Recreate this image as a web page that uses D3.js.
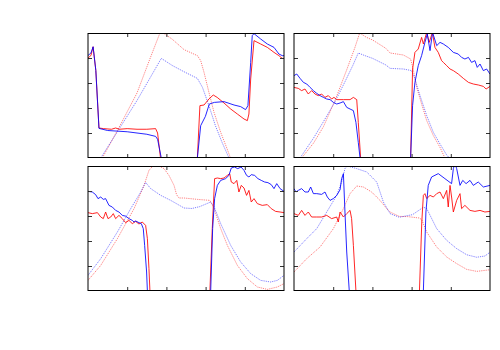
<!DOCTYPE html>
<html lang="en">
<head>
  <meta charset="UTF-8">
  <title>four panels</title>
  <script src="https://cdnjs.cloudflare.com/ajax/libs/d3/7.8.5/d3.min.js"></script>
  <style>
    body { margin: 0; background: #fff; }
    svg { display: block; }
  </style>
</head>
<body>
  <div id="chart"></div>

  <script>
    // all values on a 0..100 scale in x and y
    // -10 means the line has left the bottom of the frame
    const xTicks = [20, 40, 60, 80];
    const yTicks = [20, 40, 60, 80];

    // top left
    const tlRed = [[0,80],[1.5,82],[2.6,89],[4,70],[5.6,24],[8,23.5],[12,23],[14.1,24],[16,23],[20,23.5],[25,23],[30,23],[34.5,23.5],[35.5,20],[37,0],[37.5,-10],
      [55.5,-10],[55.8,0],[57.1,41.9],[59.2,42.4],[61.7,47.2],[63.9,50.4],[65.9,48.5],[69.4,44],[72.8,39.2],[76.2,35.2],[79.6,31.2],[81.3,29.9],[82.1,35.2],[83,63.2],[84.7,93.9],[88.1,91.2],[91.5,88.5],[94.9,84.5],[97.4,81.9],[99.1,79.7],[100,79.7]];
    const tlBlue = [[0,82],[1.5,84],[2.6,89],[4,70],[5.6,23.7],[10,22],[15,21.5],[20,21],[25,20],[30,19],[34.5,17.3],[35.5,15],[37.4,0],[37.8,-10],
      [55.5,-10],[55.8,0],[57.5,25.9],[59.9,33.3],[61.9,43.2],[64.5,44.5],[69.4,45.1],[74.5,42.4],[77.9,41.1],[80.4,38.7],[81.6,41.9],[83,76.5],[83.8,97.9],[84.7,99.5],[88.1,95.2],[91.5,91.2],[94.9,88.5],[97.4,83.2],[99.1,81.9],[100,81.9]];
    const tlRedDot = [[7.3,0],[15,22],[25,52],[32,81],[36.7,100],[37.5,102],[38.4,100],[43,95],[49,86.7],[55.8,81.9],[57.5,77.9],[59.2,68.5],[61.7,52.5],[64.3,36.5],[67.7,20.5],[71,7.2],[72.7,0]];
    const tlBlueDot = [[6.5,0],[15,21],[25,46],[32,65],[37.4,79.7],[43,74],[49,69],[55.8,63.7],[58.4,56.5],[61.7,41.9],[65,25.9],[68.4,12.5],[71.8,0.5],[72.5,-2]];

    // top right
    const trRed = [[0,56.5],[2.2,55.7],[3.9,53.9],[5.6,55.2],[7.3,51.2],[9,53.9],[10.7,51.2],[12.4,49.9],[14.1,51.2],[15.8,48.5],[17.5,49.9],[19.2,47.2],[20.4,48.5],[21.8,46.7],[25.2,46.7],[28.6,46.7],[30.3,48.5],[32,46.7],[32.8,28.5],[34,0],[34.5,-10],
      [59,-10],[59.5,0],[60.5,71.2],[61.7,84.5],[63.4,87.2],[65.1,96.5],[66,91.2],[67.7,100.5],[69,92.5],[70.6,100.5],[71.9,88.5],[73.6,84.5],[75.3,77.9],[76.2,76.5],[77.9,73.9],[79.6,71.2],[81.3,69.9],[83.8,67.2],[86.4,63.7],[89,60.5],[91.5,59.2],[94.1,58.4],[96.6,57.3],[98,55.2],[100,57.3]];
    const trBlue = [[0,65.9],[1.4,67.2],[3.1,63.7],[4.8,60.5],[6.5,59.2],[8.2,56.5],[9.9,53.9],[11.6,51.7],[13.3,49.9],[15,48.5],[16.7,47.2],[18.4,46.7],[20.1,44.5],[21.8,43.2],[23.5,44],[25.2,45.1],[26.9,40.5],[28.6,39.2],[30.3,37.9],[31.6,28.5],[32.8,12.5],[33.7,0],[34.2,-10],
      [59,-10],[59.5,0],[60.5,41.9],[61.7,60.5],[63.4,73.9],[65.1,81.9],[66.8,92.5],[68,99.2],[69.4,85.9],[70.7,100.5],[72.8,89.9],[74.5,92.5],[76.2,91.2],[78.7,88.5],[81.3,84.5],[83.8,83.2],[85.5,80.5],[87.2,79.2],[89,80.5],[90.6,76.5],[92.3,77.9],[93.5,72.5],[94.9,75.2],[96.6,69.9],[98.3,71.2],[100,67.2]];
    const trRedDot = [[3.9,0],[10,12],[15,25],[20.9,45.9],[27,71],[31,88],[33.5,100],[37,96.5],[40.1,94.4],[46.9,87.7],[49,84],[55.8,82.4],[59.5,79.2],[60.8,71.2],[62.6,56.5],[65.1,43.2],[67.7,29.9],[71.1,17.9],[74.5,8.5],[77,0],[78,-3]];
    const trBlueDot = [[3.1,0],[10,16],[15,29],[20.9,45],[26,61],[30,74],[32.8,84],[36,82],[40.1,79.7],[46.9,74.4],[49,71.7],[55.8,71.2],[60,69.9],[61.7,63.2],[64.3,49.9],[67.7,33.9],[71.1,20.5],[74.5,11.2],[77.9,2.4],[79.3,0],[80,-3]];

    // bottom left
    const blRed = [[0,62.7],[2.2,61.9],[4.8,62.7],[6.5,59.2],[7.8,57.9],[9,63.2],[10.2,57.9],[11.6,59.2],[12.9,61.9],[14.1,57.9],[15.8,60.5],[17.5,57.9],[19.2,54.7],[20.9,56.5],[22.6,53.9],[24.3,55.7],[26,53.6],[27.7,55.2],[29.4,52.5],[30.3,41.9],[31.1,17.9],[31.6,0],[32,-10],
      [62,-10],[62.2,0],[63.4,49.9],[64.6,89.9],[66,90.4],[67.7,89.9],[69.4,90.4],[71.1,92.5],[72.3,93.9],[73.1,87.2],[74.5,85.9],[75.9,88.5],[77,79.2],[78.2,84.5],[79.6,82.4],[80.9,76.5],[82.1,80.5],[83.3,71.2],[84.7,73.9],[86.4,69.9],[88.9,68.5],[91.5,69.1],[93.5,65.9],[95.7,63.7],[98,63.2],[100,62.7]];
    const blBlue = [[0,79.7],[2.2,79.2],[3.9,77.1],[5.1,73.9],[6.5,75.2],[7.8,73.3],[9,73.9],[10.7,68.5],[12.4,67.2],[14.1,64.5],[15.8,63.2],[17.5,60.5],[19.2,59.9],[20.9,57.9],[22.6,56.5],[23.5,55.2],[24.3,56],[26,54.7],[27.2,53.9],[28.2,49.9],[28.9,36.5],[29.9,15.2],[30.3,0],[30.7,-10],
      [62.4,-10],[62.6,0],[63.6,49.9],[64.6,73.9],[66,84.5],[67.7,88.5],[70.2,89.9],[71.9,92.5],[73.1,98.4],[74.7,99.2],[76.4,97.9],[78.1,99.2],[79.6,96.5],[80.9,92.5],[82.1,91.2],[83.3,93.1],[85,92.5],[86.7,89.9],[88.4,88.5],[90.1,87.2],[91.8,86.7],[93.5,85.1],[94.9,81.9],[96.3,85.9],[98,81.9],[100,79.7]];
    const blRedDot = [[0,8.5],[6.5,20.5],[15,41.9],[23.5,65.9],[28.6,84.5],[31.1,96.5],[32.8,99.5],[34.5,100.5],[36.2,100],[38.8,97.9],[41.3,92.5],[43.9,84.5],[45.2,77],[46.4,74.4],[49,74.4],[55.8,73.3],[62.2,72.5],[64.3,65.9],[67.7,49.9],[71.1,36.5],[76.2,20.5],[81.3,9.9],[86.4,3.2],[91.5,1.3],[96.6,3.2],[100,5.9]];
    const blBlueDot = [[0,12.5],[6.5,25.9],[15,47.2],[21.8,65.9],[26.9,79.2],[29.4,86.9],[32,81.9],[37.1,76.5],[42.2,72.5],[49,66.4],[53,66],[57,67.5],[62.6,71.2],[64.3,67.5],[67.7,53.9],[72.8,36.5],[77.9,23.2],[83,13.9],[88.1,8.5],[93.2,7.2],[96.6,8.5],[100,12.5]];

    // bottom right
    const brRed = [[0,61.9],[2.2,60.5],[3.9,64.5],[5.6,60.5],[7.3,63.2],[9,59.2],[11.6,59.2],[14.1,59.2],[16.7,60.5],[19.2,57.9],[21.8,59.2],[22.6,55.2],[23.5,63.2],[25.2,59.2],[26.9,61.9],[28.6,64.5],[29.4,57.9],[30.3,36.5],[31.6,0],[32,-10],
      [63.7,-10],[64,0],[65.2,55.2],[66,76.5],[66.8,77.9],[67.7,73.9],[69.4,76.5],[71.1,75.2],[72.8,77.9],[74.5,79.2],[76.2,73.9],[77.9,80.5],[78.7,67.2],[79.6,84.5],[80.4,75.2],[81.3,63.2],[83,72.5],[84.7,77.9],[85.5,65.9],[87.2,68.5],[89.8,64.5],[92.3,63.7],[94.9,64.5],[97.4,63.2],[100,63.7]];
    const brBlue = [[0,81.9],[1,79.2],[2.2,80.5],[3.9,81.9],[5.6,79.2],[7.3,79.2],[8.5,83.2],[9.9,77.9],[11.6,77.9],[14.1,77.3],[15.8,79.2],[17,75.2],[18.4,72.5],[20.1,74],[21.8,76.5],[23.5,81],[24.3,89.9],[25.2,93.9],[26,63.2],[26.9,31.2],[28.2,0],[28.6,-10],
      [65.7,-10],[66,0],[67.3,63.2],[68.5,84.5],[70.2,91.2],[73.6,93.9],[77,89.9],[80.4,85.9],[81.3,97.9],[82.1,102],[83,97.9],[84.7,84.5],[86.1,88.5],[87.8,85.9],[89.8,88.5],[91.5,84.5],[94,87.2],[96.6,83.2],[100,84.5]];
    const brRedDot = [[0,15.2],[6.5,25.9],[13.3,35.2],[20.1,49.9],[25.2,65.9],[28.6,77.9],[32,84],[35.4,83.2],[39.6,79.2],[43.9,72.5],[47.3,65.9],[49,63.2],[53.7,59.7],[58,59.5],[63.9,58.4],[65.2,57],[67.7,47.2],[72.8,35.2],[77.9,27.2],[83,21.9],[88.1,17.3],[93.2,15.7],[100,17]];
    const brBlueDot = [[0,31.2],[6.5,41.9],[11.6,49.9],[16.7,63.2],[21.8,76.5],[24.3,87.2],[26,97.9],[27.2,100],[32,97.9],[37.1,95.2],[42.2,87.2],[45.6,71.2],[49,61.9],[53.7,59],[60.5,61.1],[66,67],[67.7,66],[72.8,49.9],[77.9,40.5],[83,33.9],[88.1,29],[93.2,27],[97.4,28],[100,31]];

    const panels = [
      { left: 88,  top: 33,  series: [tlRedDot, tlBlueDot, tlRed, tlBlue] },
      { left: 294, top: 33,  series: [trRedDot, trBlueDot, trRed, trBlue] },
      { left: 88,  top: 166, series: [blRedDot, blBlueDot, blRed, blBlue] },
      { left: 294, top: 166, series: [brRedDot, brBlueDot, brRed, brBlue] }
    ];
    // dotted red, dotted blue, solid red, solid blue
    const styles = [
      { color: '#ff0000', dash: '1.2,1', opacity: 0.5 },
      { color: '#0000ff', dash: '1.2,1', opacity: 0.5 },
      { color: '#ff0000', dash: null, opacity: 0.85 },
      { color: '#0000ff', dash: null, opacity: 0.85 }
    ];

    const pw = 196, ph = 125;

    const svg = d3.select('#chart')
      .append('svg')
      .attr('width', 500)
      .attr('height', 350);

    const x = d3.scaleLinear().domain([0, 100]).range([0, pw]);
    const y = d3.scaleLinear().domain([0, 100]).range([ph, 0]);

    const line = d3.line()
      .x(d => x(d[0]))
      .y(d => y(d[1]));

    panels.forEach((p, i) => {
      const g = svg.append('g').attr('transform', `translate(${p.left},${p.top})`);

      g.append('clipPath')
        .attr('id', 'clip' + i)
        .append('rect')
        .attr('width', pw)
        .attr('height', ph);

      const plot = g.append('g').attr('clip-path', `url(#clip${i})`);
      p.series.forEach((s, k) => {
        plot.append('path')
          .datum(s)
          .attr('d', line)
          .attr('fill', 'none')
          .attr('stroke', styles[k].color)
          .attr('stroke-opacity', styles[k].opacity)
          .attr('stroke-width', 1)
          .attr('stroke-dasharray', styles[k].dash);
      });

      // inward ticks on all four sides, no labels
      const axes = [
        d3.axisBottom(x).tickValues(xTicks).tickSizeInner(-4).tickSizeOuter(0).tickFormat(''),
        d3.axisTop(x).tickValues(xTicks).tickSizeInner(-4).tickSizeOuter(0).tickFormat(''),
        d3.axisLeft(y).tickValues(yTicks).tickSizeInner(-4).tickSizeOuter(0).tickFormat(''),
        d3.axisRight(y).tickValues(yTicks).tickSizeInner(-4).tickSizeOuter(0).tickFormat('')
      ];
      const shifts = [`translate(0,${ph})`, 'translate(0,0)', 'translate(0,0)', `translate(${pw},0)`];
      axes.forEach((a, k) => {
        const ag = g.append('g').attr('transform', shifts[k]).call(a);
        ag.select('.domain').remove();
        ag.selectAll('line').attr('stroke', '#333');
      });

      // frame
      g.append('line').attr('x1', 0).attr('x2', pw).attr('y1', 0.5).attr('y2', 0.5).attr('stroke', '#000');
      g.append('line').attr('x1', 0).attr('x2', pw).attr('y1', ph - 0.5).attr('y2', ph - 0.5).attr('stroke', '#000');
      g.append('line').attr('x1', 0).attr('x2', 0).attr('y1', 0).attr('y2', ph).attr('stroke', '#000');
      g.append('line').attr('x1', pw).attr('x2', pw).attr('y1', 0).attr('y2', ph).attr('stroke', '#000');
    });
  </script>
</body>
</html>
